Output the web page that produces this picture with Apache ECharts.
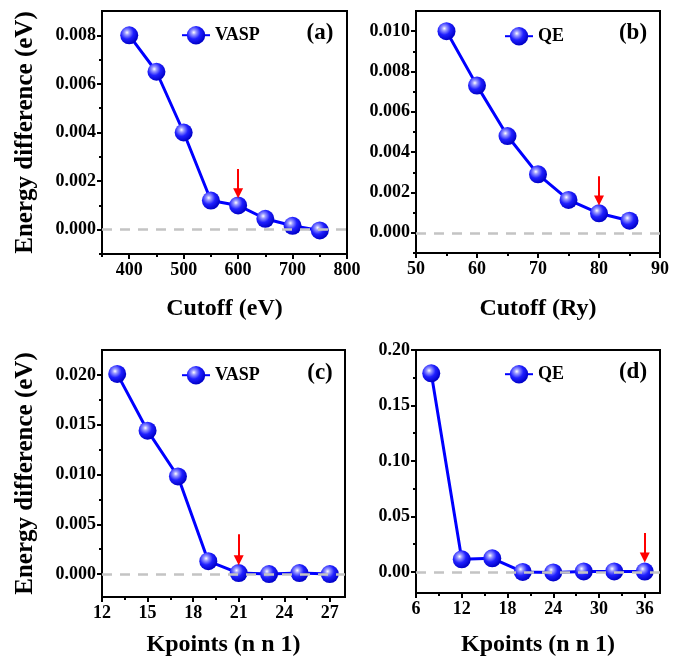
<!DOCTYPE html>
<html>
<head>
<meta charset="utf-8">
<script src="https://cdn.jsdelivr.net/npm/echarts@6/dist/echarts.min.js"></script>
<style>
    html, body { margin: 0; padding: 0; background: #fff; }
    #main { width: 686px; height: 662px; }
</style>
</head>
<body>
<div id="main"></div>
<script>
// (a) VASP 截断能
const cutoffEv = [400, 450, 500, 550, 600, 650, 700, 750];
const vaspCutoffDiff = [0.0080, 0.0065, 0.0040, 0.0012, 0.0010, 0.00045, 0.00016, -0.00003];
// (b) QE 截断能
const cutoffRy = [55, 60, 65, 70, 75, 80, 85];
const qeCutoffDiff = [0.0100, 0.0073, 0.0048, 0.0029, 0.00163, 0.00097, 0.00060];
// (c) VASP k点
const kpointsVasp = [13, 15, 17, 19, 21, 23, 25, 27];
const vaspKpointDiff = [0.0201, 0.0144, 0.0098, 0.0013, 0.0001, 0.0000, 0.0001, 0.0000];
// (d) QE k点
const kpointsQe = [8, 12, 16, 20, 24, 28, 32, 36];
const qeKpointDiff = [0.179, 0.0114, 0.0123, 0.0000, -0.0005, 0.0004, 0.0004, 0.0003];

// 刻度
const xTicksA = [400, 500, 600, 700, 800];
const xMinorA = [350, 450, 550, 650, 750];
const xTicksB = [50, 60, 70, 80, 90];
const xMinorB = [55, 65, 75, 85];
const xTicksC = [12, 15, 18, 21, 24, 27];
const xMinorC = [13.5, 16.5, 19.5, 22.5, 25.5];
const xTicksD = [6, 12, 18, 24, 30, 36];
const xMinorD = [9, 15, 21, 27, 33];
const yTicksA = [0, 0.002, 0.004, 0.006, 0.008];
const yMinorA = [-0.001, 0.001, 0.003, 0.005, 0.007];
const yTicksB = [0, 0.002, 0.004, 0.006, 0.008, 0.010];
const yMinorB = [-0.001, 0.001, 0.003, 0.005, 0.007, 0.009];
const yTicksC = [0, 0.005, 0.010, 0.015, 0.020];
const yMinorC = [0.0025, 0.0075, 0.0125, 0.0175];
const yTicksD = [0, 0.05, 0.10, 0.15, 0.20];
const yMinorD = [0.025, 0.075, 0.125, 0.175];

// 红色箭头 [x, 起点y, 终点y]
const arrowA = [600, 0.0025, 0.0015];
const arrowB = [80, 0.0028, 0.0016];
const arrowC = [21, 0.0040, 0.0014];
const arrowD = [36, 0.035, 0.013];

const FONT = 'Liberation Serif';

const panels = [
    {
        name: 'VASP', label: '(a)', xName: 'Cutoff (eV)', yName: 'Energy difference (eV)',
        grid: { left: 102, top: 11, width: 245, height: 243 },
        xMin: 350, xMax: 800, yMin: -0.001, yMax: 0.009,
        xData: cutoffEv, yData: vaspCutoffDiff, xTicks: xTicksA, xMinor: xMinorA,
        yTicks: yTicksA, yMinor: yMinorA, digits: 3, arrow: arrowA,
        xGap: 43, legend: { left: 176, top: 21 }, tag: [320, 33]
    },
    {
        name: 'QE', label: '(b)', xName: 'Cutoff (Ry)', yName: '',
        grid: { left: 416, top: 11, width: 244, height: 242 },
        xMin: 50, xMax: 90, yMin: -0.001, yMax: 0.011,
        xData: cutoffRy, yData: qeCutoffDiff, xTicks: xTicksB, xMinor: xMinorB,
        yTicks: yTicksB, yMinor: yMinorB, digits: 3, arrow: arrowB,
        xGap: 44, legend: { left: 499, top: 22 }, tag: [633, 33]
    },
    {
        name: 'VASP', label: '(c)', xName: 'Kpoints (n n 1)', yName: 'Energy difference (eV)',
        grid: { left: 102, top: 350, width: 243, height: 247 },
        xMin: 12, xMax: 28, yMin: -0.0023, yMax: 0.0225,
        xData: kpointsVasp, yData: vaspKpointDiff, xTicks: xTicksC, xMinor: xMinorC,
        yTicks: yTicksC, yMinor: yMinorC, digits: 3, arrow: arrowC,
        xGap: 36, legend: { left: 176, top: 361 }, tag: [320, 373]
    },
    {
        name: 'QE', label: '(d)', xName: 'Kpoints (n n 1)', yName: '',
        grid: { left: 416, top: 350, width: 244, height: 243 },
        xMin: 6, xMax: 38, yMin: -0.019, yMax: 0.20,
        xData: kpointsQe, yData: qeKpointDiff, xTicks: xTicksD, xMinor: xMinorD,
        yTicks: yTicksD, yMinor: yMinorD, digits: 2, arrow: arrowD,
        xGap: 40, legend: { left: 499, top: 360 }, tag: [633, 372]
    }
];

// 小球渐变
const ballColor = {
    type: 'radial', x: 0.38, y: 0.35, r: 0.65,
    colorStops: [
        { offset: 0, color: '#ffffff' },
        { offset: 0.2, color: '#9a9aff' },
        { offset: 0.55, color: '#2020ff' },
        { offset: 1, color: '#0000c8' }
    ]
};

const axisText = { color: '#000', fontFamily: FONT, fontWeight: 'bold', fontSize: 18 };
const nameText = { color: '#000', fontFamily: FONT, fontWeight: 'bold', fontSize: 24 };
const yNameText = { color: '#000', fontFamily: FONT, fontWeight: 'bold', fontSize: 25 };

let grids = [], xAxes = [], yAxes = [], series = [], legends = [], texts = [];

panels.forEach((p, i) => {
    grids.push(Object.assign({ show: true, borderColor: '#000', borderWidth: 2 }, p.grid));

    // 主刻度轴
    xAxes.push({
        type: 'value', gridIndex: i, min: p.xMin, max: p.xMax, position: 'bottom',
        name: p.xName, nameLocation: 'middle', nameGap: p.xGap, nameTextStyle: nameText,
        axisLine: { onZero: false, lineStyle: { color: '#000', width: 2 } },
        axisTick: { length: 5, lineStyle: { color: '#000', width: 2 }, customValues: p.xTicks },
        axisLabel: { customValues: p.xTicks, margin: 7, ...axisText },
        splitLine: { show: false }
    });
    // 次刻度轴
    xAxes.push({
        type: 'value', gridIndex: i, min: p.xMin, max: p.xMax, position: 'bottom',
        axisLine: { show: false, onZero: false },
        axisTick: { length: 3, lineStyle: { color: '#000', width: 2 }, customValues: p.xMinor },
        axisLabel: { show: false },
        splitLine: { show: false }
    });
    yAxes.push({
        type: 'value', gridIndex: i, min: p.yMin, max: p.yMax, position: 'left',
        name: p.yName, nameLocation: 'middle', nameGap: 64, nameTextStyle: yNameText,
        axisLine: { onZero: false, lineStyle: { color: '#000', width: 2 } },
        axisTick: { length: 5, lineStyle: { color: '#000', width: 2 }, customValues: p.yTicks },
        axisLabel: {
            customValues: p.yTicks, margin: 6, ...axisText,
            formatter: v => v.toFixed(p.digits)
        },
        splitLine: { show: false }
    });
    yAxes.push({
        type: 'value', gridIndex: i, min: p.yMin, max: p.yMax, position: 'left',
        axisLine: { show: false, onZero: false },
        axisTick: { length: 3, lineStyle: { color: '#000', width: 2 }, customValues: p.yMinor },
        axisLabel: { show: false },
        splitLine: { show: false }
    });

    series.push({
        name: p.name,
        type: 'line',
        xAxisIndex: i * 2,
        yAxisIndex: i * 2,
        data: p.xData.map((x, k) => [x, p.yData[k]]),
        symbol: 'circle',
        symbolSize: 18,
        itemStyle: { color: ballColor },
        lineStyle: { color: '#0000ff', width: 3 },
        markLine: {
            silent: true,
            symbol: ['none', 'none'],
            label: { show: false },
            z: 5,
            data: [
                { yAxis: 0, lineStyle: { color: '#c4c4c4', width: 2.5, type: [10, 8] } },
                [
                    { coord: [p.arrow[0], p.arrow[1]], lineStyle: { color: '#ff0000', width: 2, type: 'solid' } },
                    { coord: [p.arrow[0], p.arrow[2]], symbol: 'triangle', symbolSize: [10, 10] }
                ]
            ]
        }
    });

    legends.push({
        data: [p.name],
        left: p.legend.left,
        top: p.legend.top,
        itemWidth: 28,
        itemHeight: 23,
        itemGap: 2,
        textStyle: { color: '#000', fontFamily: FONT, fontWeight: 'bold', fontSize: 18 },
        selectedMode: false
    });

    texts.push({
        type: 'text',
        x: p.tag[0],
        y: p.tag[1],
        style: {
            text: p.label, fill: '#000', font: 'bold 23px "Liberation Serif"',
            align: 'center', verticalAlign: 'middle'
        }
    });
});

let myChart = echarts.init(document.getElementById('main'));
let option = {
    animation: false,
    backgroundColor: '#fff',
    grid: grids,
    xAxis: xAxes,
    yAxis: yAxes,
    legend: legends,
    series: series,
    graphic: texts
};
myChart.setOption(option);
</script>
</body>
</html>
